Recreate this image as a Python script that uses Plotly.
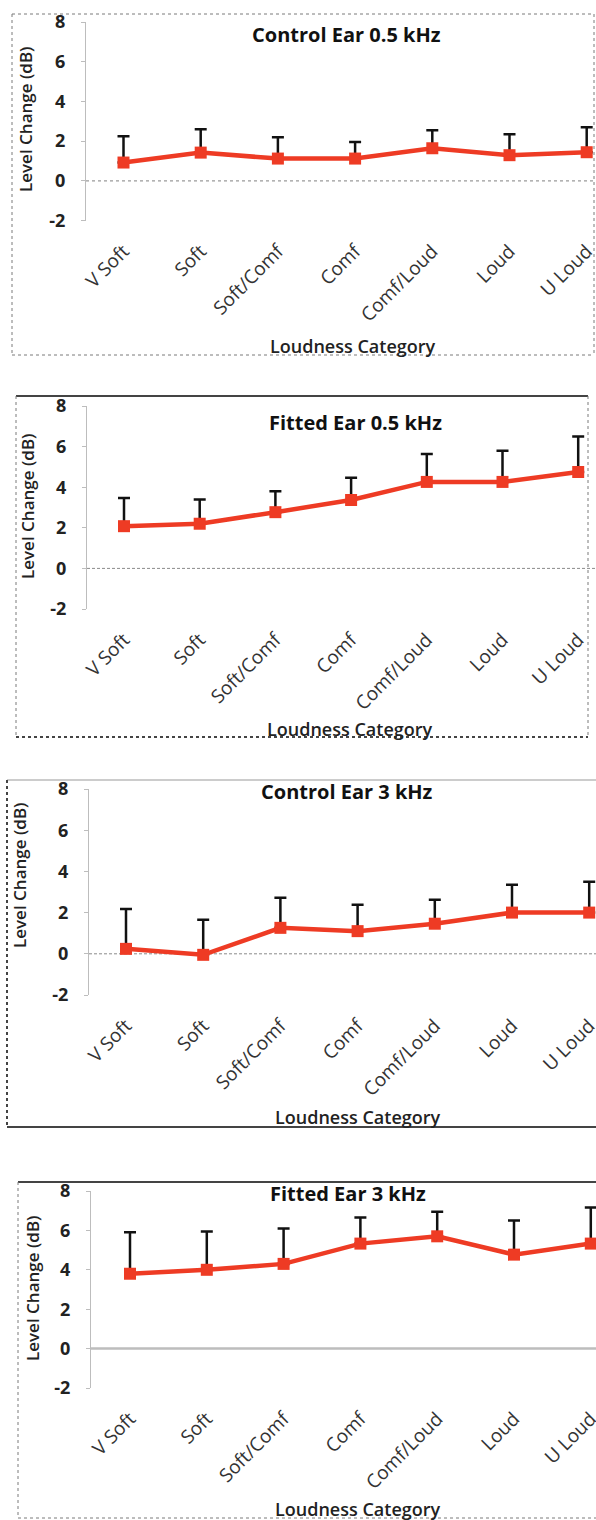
import plotly.graph_objects as go

W, H = 596, 1520

categories = ["V Soft", "Soft", "Soft/Comf", "Comf", "Comf/Loud", "Loud", "U Loud"]
y_ticks = [-2, 0, 2, 4, 6, 8]
y_tick_labels = ["-2", "0", "2", "4", "6", "8"]

titles = ["Control Ear 0.5 kHz", "Fitted Ear 0.5 kHz", "Control Ear 3 kHz", "Fitted Ear 3 kHz"]

control_05_mean = [0.92, 1.42, 1.12, 1.12, 1.64, 1.29, 1.44]
control_05_err = [1.33, 1.18, 1.08, 0.83, 0.91, 1.06, 1.26]

fitted_05_mean = [2.08, 2.20, 2.77, 3.37, 4.26, 4.26, 4.75]
fitted_05_err = [1.39, 1.20, 1.03, 1.09, 1.38, 1.54, 1.75]

control_3_mean = [0.24, -0.05, 1.26, 1.10, 1.46, 2.00, 2.00]
control_3_err = [1.94, 1.70, 1.46, 1.28, 1.16, 1.35, 1.50]

fitted_3_mean = [3.80, 4.00, 4.30, 5.33, 5.70, 4.77, 5.33]
fitted_3_err = [2.10, 1.95, 1.80, 1.32, 1.25, 1.73, 1.83]

means = [control_05_mean, fitted_05_mean, control_3_mean, fitted_3_mean]
errs = [control_05_err, fitted_05_err, control_3_err, fitted_3_err]

THIN = dict(color="#7a7a7a", width=1, dash="dot")
DARK = dict(color="#444444", width=2, dash="solid")
DARKDOT = dict(color="#444444", width=2, dash="dot")
LIGHT = dict(color="#BBBBBB", width=1.5, dash="solid")

# pixel layout per panel; edges: top, bottom, left, right
panels = [
    dict(ax_x=86, cat0=123.5, step=77.2, ytop=22, ybot=220.5,
         border=(12, 14, 594, 355), edges=(THIN, THIN, THIN, THIN),
         zero=dict(color="#9A9A9A", width=1.2, dash="dot"),
         title=(346, 34), xtitle=(352, 346), ytitle=(25, 119)),
    dict(ax_x=87, cat0=124, step=75.7, ytop=406, ybot=609,
         border=(16, 396, 588, 737), edges=(DARK, DARKDOT, THIN, THIN),
         zero=dict(color="#8A8A8A", width=1, dash="3px,2px"),
         title=(355, 422), xtitle=(349, 729), ytitle=(28, 506)),
    dict(ax_x=89, cat0=126, step=77.2, ytop=789, ybot=995,
         border=(7, 780, 600, 1127), edges=(LIGHT, DARK, DARKDOT, None),
         zero=dict(color="#8A8A8A", width=1, dash="3px,2px"),
         title=(347, 792), xtitle=(357, 1117), ytitle=(19, 875)),
    dict(ax_x=91, cat0=130, step=76.8, ytop=1191, ybot=1388,
         border=(18, 1182, 600, 1518), edges=(DARK, THIN, THIN, None),
         zero=dict(color="#BDBDBD", width=2.5, dash="solid"),
         title=(348, 1193), xtitle=(357, 1509), ytitle=(32, 1288)),
]

RED = "#EE3B24"
FONT = "Open Sans"

fig = go.Figure()
shapes = []
annotations = []


def px_line(x0, y0, x1, y1, style):
    return dict(type="line", xref="paper", yref="paper",
                x0=x0 / W, x1=x1 / W, y0=1 - y0 / H, y1=1 - y1 / H, line=style)


for i, p in enumerate(panels):
    n = i + 1
    xa = "x" if n == 1 else f"x{n}"
    ya = "y" if n == 1 else f"y{n}"
    fig.add_trace(go.Scatter(
        x=list(range(len(categories))), y=means[i],
        mode="lines+markers",
        line=dict(color=RED, width=4.5),
        marker=dict(symbol="square", size=12, color=RED),
        error_y=dict(type="data", array=errs[i], arrayminus=[0] * len(errs[i]),
                     symmetric=False, color="#111111", thickness=2.5, width=6),
        xaxis=xa, yaxis=ya, cliponaxis=False, showlegend=False,
    ))
    x_lo = p["ax_x"]
    x_hi = W
    r0 = (x_lo - p["cat0"]) / p["step"]
    r1 = (x_hi - p["cat0"]) / p["step"]
    xkey = "xaxis" if n == 1 else f"xaxis{n}"
    ykey = "yaxis" if n == 1 else f"yaxis{n}"
    fig.layout[xkey] = dict(
        domain=[x_lo / W, x_hi / W], range=[r0, r1], anchor=ya, automargin=False,
        tickmode="array", tickvals=list(range(len(categories))), ticktext=categories,
        tickangle=-45, showline=False, showgrid=False, zeroline=False,
        ticks="", ticklabelstandoff=15, ticklabeloverflow="allow",
        tickfont=dict(family=FONT, size=19, color="#333333"),
    )
    fig.layout[ykey] = dict(
        domain=[1 - p["ybot"] / H, 1 - p["ytop"] / H], range=[-2, 8], anchor=xa,
        automargin=False,
        tickmode="array", tickvals=y_ticks, ticktext=y_tick_labels,
        showline=True, linecolor="#BDBDBD", linewidth=1,
        ticks="outside", ticklen=4, tickcolor="#BDBDBD",
        showgrid=False, zeroline=False, ticklabelstandoff=12,
        tickfont=dict(family=FONT, size=18, color="#222222", weight="bold"),
    )
    # zero line
    shapes.append(dict(type="line", xref=f"{xa} domain", yref=ya, x0=0, x1=1, y0=0, y1=0,
                       line=p["zero"], layer="below"))
    # border edges
    bx0, by0, bx1, by1 = p["border"]
    top, bot, left, right = p["edges"]
    for seg, st in (((bx0, by0, bx1, by0), top), ((bx0, by1, bx1, by1), bot),
                    ((bx0, by0, bx0, by1), left), ((bx1, by0, bx1, by1), right)):
        if st is not None:
            shapes.append(px_line(*seg, st))
    tx, ty = p["title"]
    annotations.append(dict(text=titles[i], xref="paper", yref="paper",
                            x=tx / W, y=1 - ty / H, showarrow=False,
                            xanchor="center", yanchor="middle",
                            font=dict(family=FONT, size=20, color="#111111", weight="bold")))
    xtx, xty = p["xtitle"]
    annotations.append(dict(text="Loudness Category", xref="paper", yref="paper",
                            x=xtx / W, y=1 - xty / H, showarrow=False,
                            xanchor="center", yanchor="middle",
                            font=dict(family=FONT, size=18, color="#222222", weight=600)))
    ytx, yty = p["ytitle"]
    annotations.append(dict(text="Level Change (dB)", xref="paper", yref="paper",
                            x=ytx / W, y=1 - yty / H, showarrow=False, textangle=-90,
                            xanchor="center", yanchor="middle",
                            font=dict(family=FONT, size=17, color="#222222", weight=600)))

fig.update_layout(
    width=W, height=H, margin=dict(l=0, r=0, t=0, b=0, autoexpand=False),
    paper_bgcolor="white", plot_bgcolor="white",
    shapes=shapes, annotations=annotations,
)

fig.write_html(
    "out.html",
    config={"displayModeBar": False},
    post_script="document.body.style.margin='0';document.body.style.padding='0';"
                "document.body.style.overflow='hidden';document.documentElement.style.overflow='hidden';",
)
